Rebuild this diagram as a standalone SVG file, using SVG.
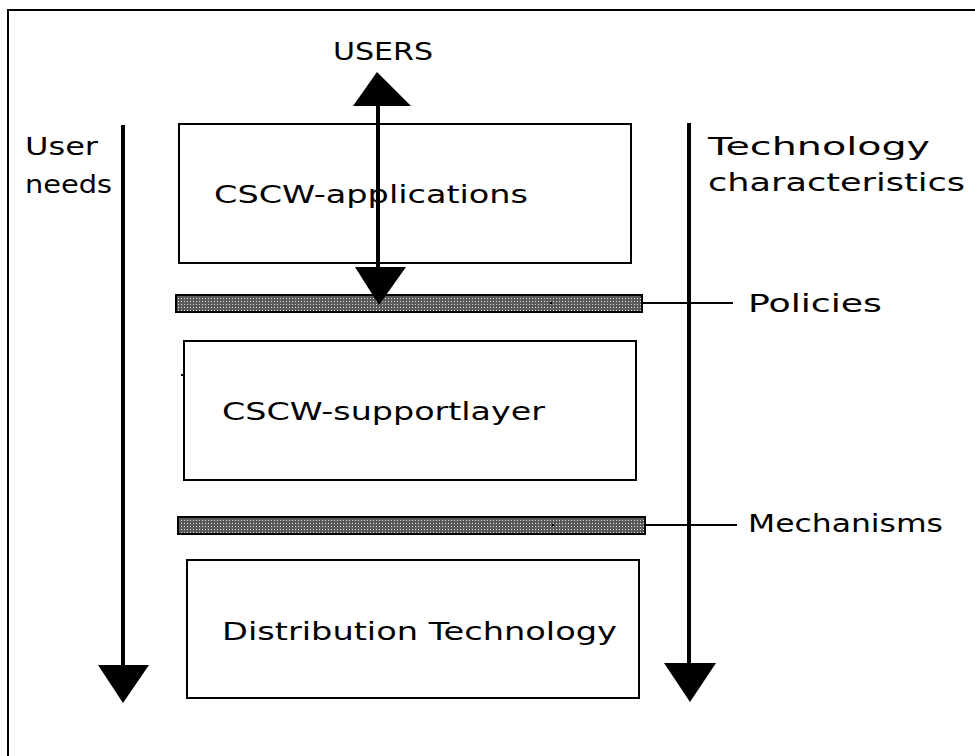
<svg xmlns="http://www.w3.org/2000/svg" width="975" height="756" viewBox="0 0 975 756">
  <style>
    .frame { fill: none; stroke: #000; stroke-width: 2; }
    .box { fill: none; stroke: #000; stroke-width: 2; }
    .bar { fill: url(#dots); stroke: #000; stroke-width: 2; }
    .lead { stroke: #000; stroke-width: 2; fill: none; }
    .shaft { stroke: #000; stroke-width: 4; fill: none; }
    .head { fill: #000; stroke: none; }
    text { font-family: "DejaVu Sans", "Liberation Sans", sans-serif; font-size: 24px; fill: #000; }
  </style>
  <defs>
    <pattern id="dots" width="3" height="3" patternUnits="userSpaceOnUse">
      <rect width="3" height="3" fill="#5a5a5a"/>
      <rect x="1" y="1" width="1" height="1" fill="#e0e0e0"/>
    </pattern>
  </defs>

  <rect width="975" height="756" fill="#fff"/>
  <!-- open frame: left and top edges only -->
  <path class="frame" d="M8,756 V10 H975"/>

  <g id="users">
    <text x="333" y="60" textLength="100" lengthAdjust="spacingAndGlyphs">USERS</text>
  </g>

  <g id="user-needs">
    <text x="25" y="155" textLength="73" lengthAdjust="spacingAndGlyphs">User</text>
    <text x="25" y="193" textLength="87" lengthAdjust="spacingAndGlyphs">needs</text>
  </g>

  <g id="technology-characteristics">
    <text x="708" y="155" textLength="222" lengthAdjust="spacingAndGlyphs">Technology</text>
    <text x="708" y="191" textLength="257" lengthAdjust="spacingAndGlyphs">characteristics</text>
  </g>

  <g id="cscw-applications">
    <rect class="box" x="179" y="124" width="452" height="139"/>
    <text x="214" y="203" textLength="314" lengthAdjust="spacingAndGlyphs">CSCW-applications</text>
  </g>

  <g id="policies">
    <rect class="bar" x="176" y="295" width="466" height="17"/>
    <rect x="550" y="302" width="2" height="2" fill="#000"/>
    <text x="748" y="312" textLength="134" lengthAdjust="spacingAndGlyphs">Policies</text>
  </g>

  <g id="cscw-supportlayer">
    <rect class="box" x="184" y="341" width="452" height="139"/>
    <line class="lead" x1="181" y1="375" x2="184" y2="375"/>
    <text x="222" y="420" textLength="323" lengthAdjust="spacingAndGlyphs">CSCW-supportlayer</text>
  </g>

  <g id="mechanisms">
    <rect class="bar" x="178" y="517" width="467" height="17"/>
    <rect x="552" y="524" width="2" height="2" fill="#000"/>
    <text x="748" y="532" textLength="195" lengthAdjust="spacingAndGlyphs">Mechanisms</text>
  </g>

  <g id="distribution-technology">
    <rect class="box" x="187" y="560" width="452" height="138"/>
    <text x="222" y="640" textLength="395" lengthAdjust="spacingAndGlyphs">Distribution Technology</text>
  </g>

  <g id="connectors">
    <!-- User needs: downward arrow on the left -->
    <line class="shaft" x1="123" y1="125" x2="123" y2="668"/>
    <polygon class="head" points="98,665 149,665 123,703"/>
    <!-- Technology characteristics: downward arrow on the right -->
    <line class="shaft" x1="689" y1="123" x2="689" y2="666"/>
    <polygon class="head" points="664,663 716,663 690,702"/>
    <!-- USERS double-headed arrow -->
    <line class="shaft" x1="378" y1="100" x2="378" y2="272"/>
    <polygon class="head" points="353,106 411,106 377,72"/>
    <polygon class="head" points="355,267 406,267 379,305"/>
    <!-- leader lines to the layer labels -->
    <line class="lead" x1="642" y1="303" x2="733" y2="303"/>
    <line class="lead" x1="645" y1="525" x2="737" y2="525"/>
  </g>
</svg>
